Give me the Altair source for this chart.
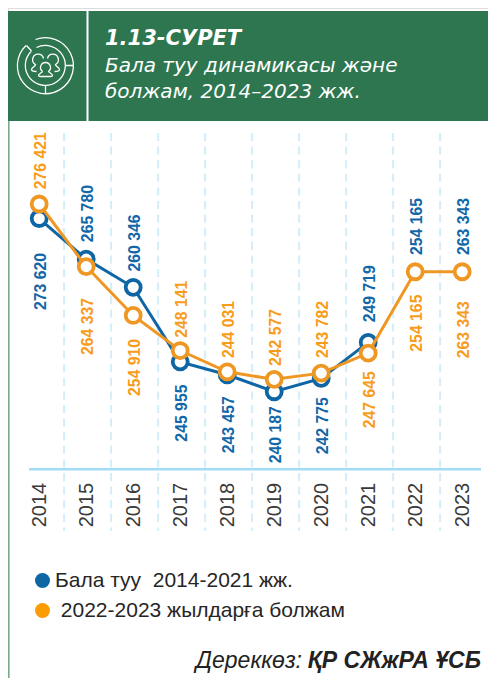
import altair as alt
import pandas as pd

# ---- values ----
years = [2014, 2015, 2016, 2017, 2018, 2019, 2020, 2021, 2022, 2023]
series_names = ["Бала туу\u00a0\u00a02014-2021 жж.", "\u200b\u00a02022-2023 жылдарға болжам"]

blue_plotted = [273620, 265780, 260346, 245955, 243457, 240187, 242775, 249719]
orange_plotted = [276421, 264337, 254910, 248141, 244031, 242577, 243782, 247645, 263343, 263343]

blue_labels = [273620, 265780, 260346, 245955, 243457, 240187, 242775, 249719, 254165, 263343]
orange_labels = [276421, 264337, 254910, 248141, 244031, 242577, 243782, 247645, 254165, 263343]
label_anchor_blue = blue_plotted + [263343, 263343]

title_lines = ["1.13-СУРЕТ", "Бала туу динамикасы және", "болжам, 2014–2023 жж."]
source_regular = "Дереккөз: "
source_bold = "ҚР СЖжРА ҰСБ"
grid_years = [2014.53, 2015.53, 2016.53, 2017.53, 2018.53, 2019.53, 2020.53, 2021.53, 2022.53]

# ---- styling ----
W, H = 480, 670
UNITS_PER_PX = 193
BLUE, ORANGE = "#0e66a5", "#ef9723"
LEG_ORANGE = "#fb9c05"
BLUE_T, ORANGE_T = "#1267a8", "#f89c1c"
GREEN = "#2d7650"
FONT = "Liberation Sans"
HEAD_FONT = "DejaVu Sans"

blue_dy = [91.5, -17, -15.8, 79.8, 78.5, 71.6, 76, -20, -16.8, -16.8]
orange_dy = [-14.7, 88.4, 80.5, -12.8, -13.8, -13.4, -15.1, 75.2, 79.9, 86.5]


def px(v):
    return v - 8


fmt = lambda v: f"{v:,}".replace(",", " ")
x_scale = alt.Scale(domain=[2013.3362, 2023.5489], range=[0, W], nice=False, zero=False)
y_scale = alt.Scale(domain=[184939, 314249], range=[H, 0], nice=False, zero=False)
stroke_scale = alt.Scale(domain=series_names, range=[BLUE, ORANGE])
fill_scale = alt.Scale(domain=series_names, range=[BLUE, LEG_ORANGE])
X = alt.X("year:Q", scale=x_scale, title=None,
          axis=alt.Axis(values=years, format="d", labelAngle=270, labelFontSize=20, labelFont=FONT,
                        labelColor="#3a3a3a", domain=False, ticks=False, grid=False, labelPadding=13,
                        offset=-208.7, labelOverlap=False, labelFlush=False))
Y = alt.Y("v:Q", scale=y_scale, axis=None)

blue_df = pd.DataFrame({"year": years[:8], "v": blue_plotted, "s": series_names[0]})
orange_df = pd.DataFrame({"year": years, "v": orange_plotted, "s": series_names[1]})
blue_lab = pd.DataFrame({"year": years, "v": [a - d * UNITS_PER_PX for a, d in zip(label_anchor_blue, blue_dy)],
                         "t": [fmt(v) for v in blue_labels]})
orange_lab = pd.DataFrame({"year": years, "v": [a - d * UNITS_PER_PX for a, d in zip(orange_plotted, orange_dy)],
                           "t": [fmt(v) for v in orange_labels]})
one = pd.DataFrame({"a": [1]})

legend = alt.Legend(title=None, orient="none", legendX=px(32), legendY=px(570), symbolType="circle", symbolSize=225,
                    labelFont=FONT, labelFontSize=21, labelColor="#262626", symbolStrokeWidth=0, labelLimit=420,
                    rowPadding=8, labelOffset=2, padding=0)


def series(df):
    stroke = alt.Stroke("s:N", scale=stroke_scale, legend=legend)
    line = alt.Chart(df).mark_line(strokeWidth=3).encode(x=X, y=Y, stroke=stroke)
    dot = alt.Chart(df).mark_point(size=120, filled=False, opacity=1, fillOpacity=1, strokeWidth=0, shape="circle").encode(
        x=X, y=Y, fill=alt.Fill("s:N", scale=fill_scale, legend=legend))
    ring = alt.Chart(df).mark_point(size=225, filled=False, fill="white", fillOpacity=1, strokeWidth=3.8, opacity=1).encode(
        x=X, y=Y, stroke=stroke)
    return [line, dot, ring]


def labels(df, color):
    return alt.Chart(df).mark_text(angle=270, align="left", baseline="middle", font=FONT, fontSize=15.8,
                                   fontWeight="bold", color=color, dy=1.5).encode(x=X, y=Y, text="t:N")


def text(s, x, y, size, color="white", align="left", font=FONT, style="normal", weight="normal"):
    return alt.Chart(one).mark_text(text=s, align=align, baseline="alphabetic", font=font, fontSize=size,
                                    fontStyle=style, fontWeight=weight, color=color).encode(
        x=alt.value(px(x)), y=alt.value(px(y)))


grid = alt.Chart(pd.DataFrame({"year": grid_years})).mark_rule(
    color="#d3edfb", strokeWidth=2, strokeDash=[8, 5.6]).encode(
    x=X, y=alt.value(px(133)), y2=alt.value(px(531)))
baseline = alt.Chart(one).mark_rule(color="#a3dcf5", strokeWidth=2.5).encode(
    x=alt.value(px(29)), x2=alt.value(px(481)), y=alt.value(px(469.3)))
header = alt.Chart(one).mark_rect(color=GREEN).encode(
    x=alt.value(0), x2=alt.value(W), y=alt.value(px(11)), y2=alt.value(px(121)))
left_line = alt.Chart(one).mark_rule(color="#7aa98c", strokeWidth=1.6).encode(
    x=alt.value(0.8), y=alt.value(px(121)), y2=alt.value(H))
divider = alt.Chart(one).mark_rule(color="white", strokeWidth=2).encode(
    x=alt.value(px(87.5)), y=alt.value(px(11)), y2=alt.value(px(121)))

icon_path = (
    "M -10 -26 A 28 28 0 1 1 -19.5 -20 "
    "M -19 -20 L -14 -14.5 M 20 0 L 28 0 M 0 20 L 0 28 "
    "M -9 -18 A 20 20 0 1 1 -14 -14.5 "
    "M -2 -7 A 5.5 5.5 0 1 0 -10 -1 C -10 1 -14 2 -14 4 C -14 6 -12 6 -9 6 "
    "M 2 -7 A 5.5 5.5 0 1 1 10 -1 C 10 1 14 2 14 4 C 14 6 12 6 9 6 "
    "M -3 6 A 5 5 0 1 1 3 6 C 3 7 7 8 7 10 C 7 11 6 11 5 11 L -5 11 C -6 11 -7 11 -7 10 C -7 8 -3 7 -3 6"
)
icon = alt.Chart(one).mark_point(shape=icon_path, size=4, filled=False, stroke="white", strokeWidth=1.3, opacity=1).encode(
    x=alt.value(px(45.5)), y=alt.value(px(65.5)))

layers = [
    left_line, grid, baseline, header, divider, icon,
    *series(blue_df), *series(orange_df),
    labels(blue_lab, BLUE_T), labels(orange_lab, ORANGE_T),
    text(title_lines[0], 105, 45, 21, font=HEAD_FONT, style="italic", weight="bold"),
    text(title_lines[1], 105, 72, 20, font=HEAD_FONT, style="italic"),
    text(title_lines[2], 105, 98, 20, font=HEAD_FONT, style="italic"),
    text(source_bold, 481, 668, 23, color="#222222", align="right", style="italic", weight="bold"),
    text(source_regular, 302, 668, 23, color="#222222", align="right", style="italic"),
]

chart = alt.layer(*layers).properties(
    width=W, height=H, padding=0, autosize=alt.AutoSizeParams(type="none")
).configure_view(stroke=None).configure(background="white")

chart.save("out.html", embed_options={"renderer": "svg", "actions": False})
